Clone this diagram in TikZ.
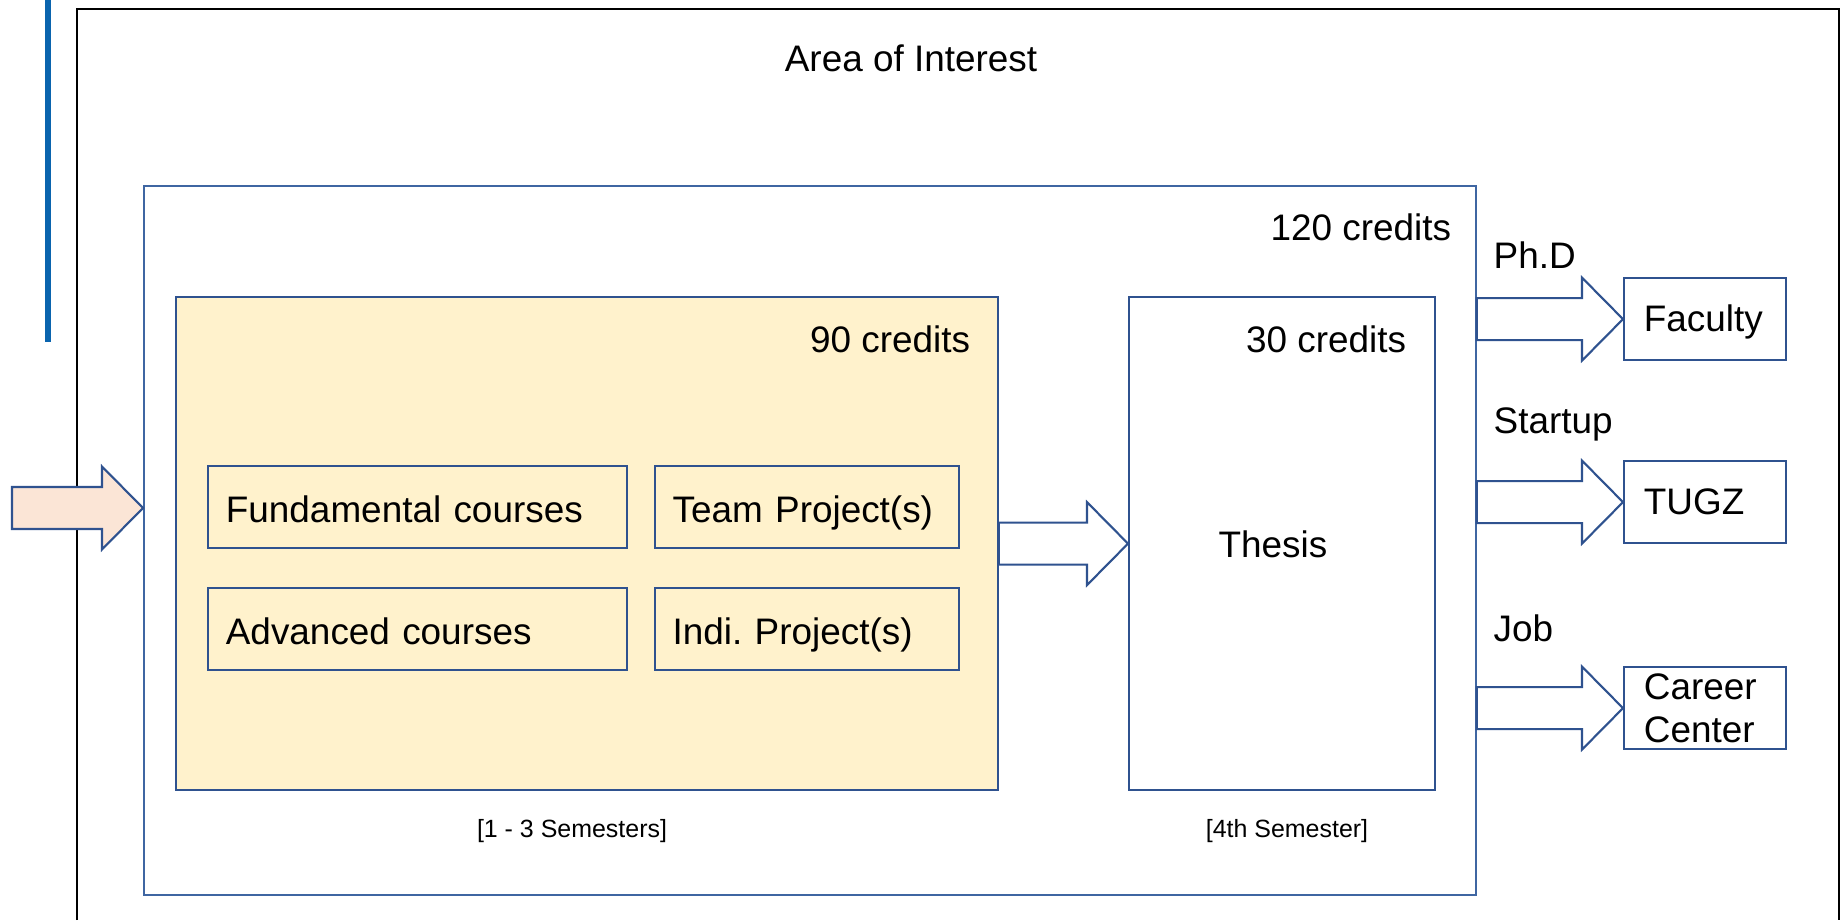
\documentclass[tikz,border=0pt]{standalone}
\usepackage{fontspec}
\setmainfont{Liberation Sans}
\usetikzlibrary{calc, positioning}

\definecolor{boxblue}{HTML}{2F528F}
\definecolor{frameblue}{HTML}{3F66A2}
\definecolor{barblue}{HTML}{0A64AE}
\definecolor{creditfill}{HTML}{FFF2CC}
\definecolor{entryfill}{HTML}{FBE5D6}

\newcommand{\bigfont}{\fontsize{10.5}{12.2}\selectfont}
\newcommand{\smallfont}{\fontsize{7.1}{8.5}\selectfont}

% block arrow from the x of #2 to the point #3
\newcommand{\fatarrow}[3][white]{%
  \draw[fatline, fill=#1] let \p1=(#2), \p2=(#3) in
    (\x1,\y2+2.1mm) -- (\x2-4.1mm,\y2+2.1mm) -- (\x2-4.1mm,\y2+4.15mm)
    -- (\p2) -- (\x2-4.1mm,\y2-4.15mm) -- (\x2-4.1mm,\y2-2.1mm)
    -- (\x1,\y2-2.1mm) -- cycle;}

\tikzset{
  box/.style={draw=boxblue, line width=0.5pt, inner sep=0pt, anchor=south west},
  course/.style={box, minimum height=0.82cm, inner xsep=0.18cm, align=left, font=\bigfont,
    text height=0.87em, text depth=0pt},
  exitbox/.style={box, minimum height=0.82cm, text width=1.22cm, inner xsep=0.20cm, align=left, font=\bigfont},
  oneline/.style={text height=0.7em, text depth=0pt},
  txt/.style={font=\bigfont, inner sep=0pt},
  fatline/.style={draw=boxblue, line width=0.6pt},
}

\begin{document}
\begin{tikzpicture}
    \useasboundingbox (0,0) rectangle (18.41,9.2);

    % side bar and outer frame
    \fill[barblue] (0.45,5.78) rectangle (0.51,9.2);
    \draw[line width=0.7pt] (0.77,0) -- (0.77,9.11) -- (18.39,9.11) -- (18.39,0);
    \node[txt, anchor=base] (area) at (9.11,8.48) {Area of Interest};

    % programme box
    \node[box, draw=frameblue, fill=white, minimum width=13.32cm, minimum height=7.09cm] (prog) at (1.43,0.24) {};
    \node[txt, anchor=base east] (total) at ($(prog.north east)+(-0.25,-0.55)$) {120 credits};

    % courses
    \node[box, fill=creditfill, minimum width=8.22cm, minimum height=4.93cm] (courses) at (1.75,1.29) {};
    \node[txt, anchor=base east] (coursecr) at ($(courses.north east)+(-0.28,-0.56)$) {90 credits};
    \node[course, text width=3.83cm] (fund) at (2.07,3.71) {Fundamental courses};
    \node[course, text width=2.68cm, right=0.26cm of fund] (team) {Team Project(s)};
    \node[course, text width=3.83cm, below=0.38cm of fund] (adv) {Advanced courses};
    \node[course, text width=2.68cm, right=0.26cm of adv] (indi) {Indi.\ Project(s)};
    \node[font=\smallfont, anchor=base] (sem1) at (5.72,0.83) {[1 - 3 Semesters]};

    % thesis
    \node[box, fill=white, minimum width=3.06cm, minimum height=4.93cm] (thesis) at (11.28,1.29) {};
    \node[txt, anchor=base east] (thesiscr) at ($(thesis.north east)+(-0.29,-0.56)$) {30 credits};
    \node[txt, anchor=base] (thesistxt) at (12.73,3.63) {Thesis};
    \node[font=\smallfont, anchor=base] (sem4) at (12.87,0.83) {[4th Semester]};

    % after the degree
    \node[exitbox, oneline] (faculty) at (16.23,5.59) {Faculty};
    \node[exitbox, oneline] (tugz) at (16.23,3.76) {TUGZ};
    \node[exitbox] (career) at (16.23,1.70) {Career\\Center};
    \node[txt, anchor=base west] (phd) at (14.93,6.51) {Ph.D};
    \node[txt, anchor=base west] (startup) at (14.93,4.86) {Startup};
    \node[txt, anchor=base west] (job) at (14.93,2.79) {Job};

    % arrows
    \coordinate (entry) at (0.12,4.12);
    \fatarrow[entryfill]{entry}{prog.west |- entry}
    \fatarrow{courses.east}{thesis.west}
    \fatarrow{prog.east}{faculty.west}
    \fatarrow{prog.east}{tugz.west}
    \fatarrow{prog.east}{career.west}
\end{tikzpicture}
\end{document}
